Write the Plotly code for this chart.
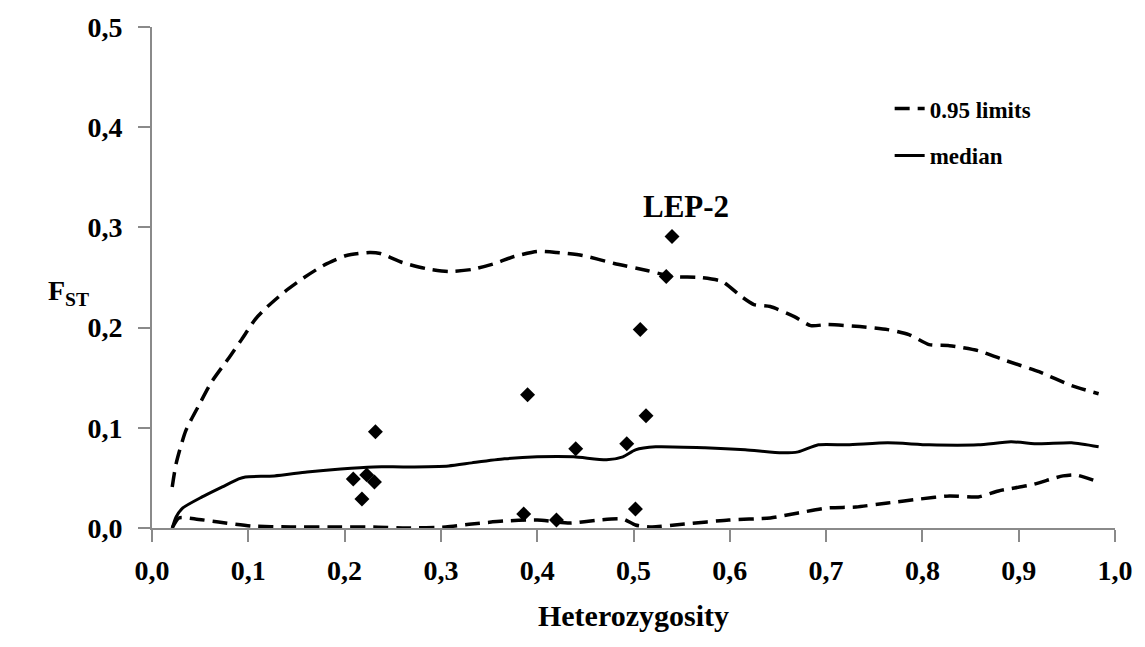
import plotly.graph_objects as go

# Upper 0.95 limit
upper_x = [0.021, 0.025, 0.035, 0.049, 0.062, 0.080, 0.093, 0.107, 0.120, 0.138, 0.158, 0.178, 0.202, 0.226, 0.237,
           0.260, 0.284, 0.308, 0.332, 0.356, 0.376, 0.400, 0.420, 0.447, 0.480, 0.514, 0.540, 0.569, 0.592, 0.612,
           0.625, 0.642, 0.667, 0.684, 0.701, 0.735, 0.764, 0.786, 0.807, 0.828, 0.858, 0.887, 0.921, 0.955, 0.983]
upper_y = [0.041, 0.064, 0.097, 0.123, 0.146, 0.170, 0.188, 0.208, 0.221, 0.236, 0.250, 0.262, 0.272, 0.275, 0.274,
           0.265, 0.259, 0.256, 0.258, 0.264, 0.271, 0.276, 0.275, 0.272, 0.264, 0.257, 0.251, 0.250, 0.246, 0.231,
           0.223, 0.221, 0.211, 0.202, 0.203, 0.201, 0.198, 0.193, 0.183, 0.182, 0.177, 0.167, 0.156, 0.142, 0.134]

# Median
median_x = [0.021, 0.025, 0.032, 0.052, 0.073, 0.090, 0.097, 0.127, 0.161, 0.196, 0.230, 0.264, 0.308, 0.332, 0.366,
            0.400, 0.438, 0.472, 0.489, 0.502, 0.523, 0.574, 0.616, 0.654, 0.671, 0.692, 0.722, 0.764, 0.807, 0.858,
            0.892, 0.921, 0.955, 0.983]
median_y = [0.000, 0.011, 0.020, 0.031, 0.041, 0.049, 0.051, 0.052, 0.056, 0.059, 0.061, 0.061, 0.062, 0.065, 0.069,
            0.071, 0.071, 0.068, 0.071, 0.078, 0.081, 0.080, 0.078, 0.075, 0.076, 0.083, 0.083, 0.085, 0.083, 0.083,
            0.086, 0.084, 0.085, 0.081]

# Lower 0.95 limit
lower_x = [0.021, 0.028, 0.045, 0.069, 0.103, 0.144, 0.196, 0.230, 0.264, 0.305, 0.332, 0.366, 0.400, 0.434, 0.464,
           0.489, 0.502, 0.519, 0.553, 0.599, 0.642, 0.671, 0.701, 0.731, 0.764, 0.798, 0.828, 0.858, 0.879, 0.913,
           0.946, 0.959, 0.983]
lower_y = [0.000, 0.010, 0.009, 0.006, 0.002, 0.001, 0.001, 0.001, 0.000, 0.001, 0.004, 0.007, 0.008, 0.005, 0.008,
           0.009, 0.003, 0.001, 0.004, 0.008, 0.010, 0.015, 0.020, 0.021, 0.025, 0.029, 0.032, 0.031, 0.037, 0.043,
           0.052, 0.053, 0.046]

# Loci
loci_x = [0.209, 0.218, 0.223, 0.231, 0.232, 0.386, 0.390, 0.420, 0.440, 0.493, 0.502, 0.507, 0.513, 0.534, 0.540]
loci_y = [0.049, 0.029, 0.053, 0.046, 0.096, 0.014, 0.133, 0.008, 0.079, 0.084, 0.019, 0.198, 0.112, 0.251, 0.291]

label_text = "LEP-2"
label_x, label_y = 0.554, 0.321

FONT = "Liberation Serif"
DASH = "15px,8px"

fig = go.Figure()
fig.add_trace(go.Scatter(x=upper_x, y=upper_y, mode="lines", name="0.95 limits", legendgroup="lim",
                         line=dict(color="black", width=3.5, dash=DASH, shape="spline", smoothing=0.6)))
fig.add_trace(go.Scatter(x=lower_x, y=lower_y, mode="lines", name="0.95 limits", legendgroup="lim",
                         showlegend=False,
                         line=dict(color="black", width=3.5, dash=DASH, shape="spline", smoothing=0.6)))
fig.add_trace(go.Scatter(x=median_x, y=median_y, mode="lines", name="median", legendgroup="med",
                         line=dict(color="black", width=3, shape="spline", smoothing=0.6)))
fig.add_trace(go.Scatter(x=loci_x, y=loci_y, mode="markers", showlegend=False,
                         marker=dict(symbol="diamond", size=11.5, color="black")))

fig.add_annotation(x=label_x, y=label_y, text=label_text, showarrow=False,
                   font=dict(family=FONT, size=31, color="black", weight="bold"))
fig.add_annotation(xref="paper", yref="paper", x=-0.11, y=0.47, text="F<sub>ST</sub>", showarrow=False,
                   font=dict(family=FONT, size=28, color="black", weight="bold"))

axis_common = dict(showgrid=False, zeroline=False, showline=True, linecolor="#8a8a8a", linewidth=2,
                   ticks="outside", tickcolor="#8a8a8a", ticklen=12, tickwidth=1.5,
                   tickfont=dict(family=FONT, size=28, color="black", weight="bold"),
                   tickformat=".1f")

fig.update_layout(
    width=1145, height=647,
    margin=dict(l=152, r=18, t=19, b=119),
    paper_bgcolor="white", plot_bgcolor="white",
    separators=", ",
    xaxis=dict(range=[0, 1], dtick=0.1, tick0=0, ticklabelstandoff=4,
               title=dict(text="Heterozygosity", font=dict(family=FONT, size=30, color="black", weight="bold"),
                          standoff=20),
               **axis_common),
    yaxis=dict(range=[0, 0.5], dtick=0.1, tick0=0, ticklabelstandoff=10, **axis_common),
    legend=dict(x=0.766, y=0.88, xanchor="left", yanchor="top", bgcolor="rgba(0,0,0,0)",
                font=dict(family=FONT, size=23, color="black", weight="bold"),
                tracegroupgap=14),
    showlegend=True,
)

post = ("document.body.style.margin='0';"
        "document.documentElement.style.overflow='hidden';"
        "var d=document.getElementById('{plot_id}');"
        "d.style.position='absolute';d.style.left='0px';d.style.top='0px';")

fig.write_html("out.html", config={"displayModeBar": False}, post_script=post)
